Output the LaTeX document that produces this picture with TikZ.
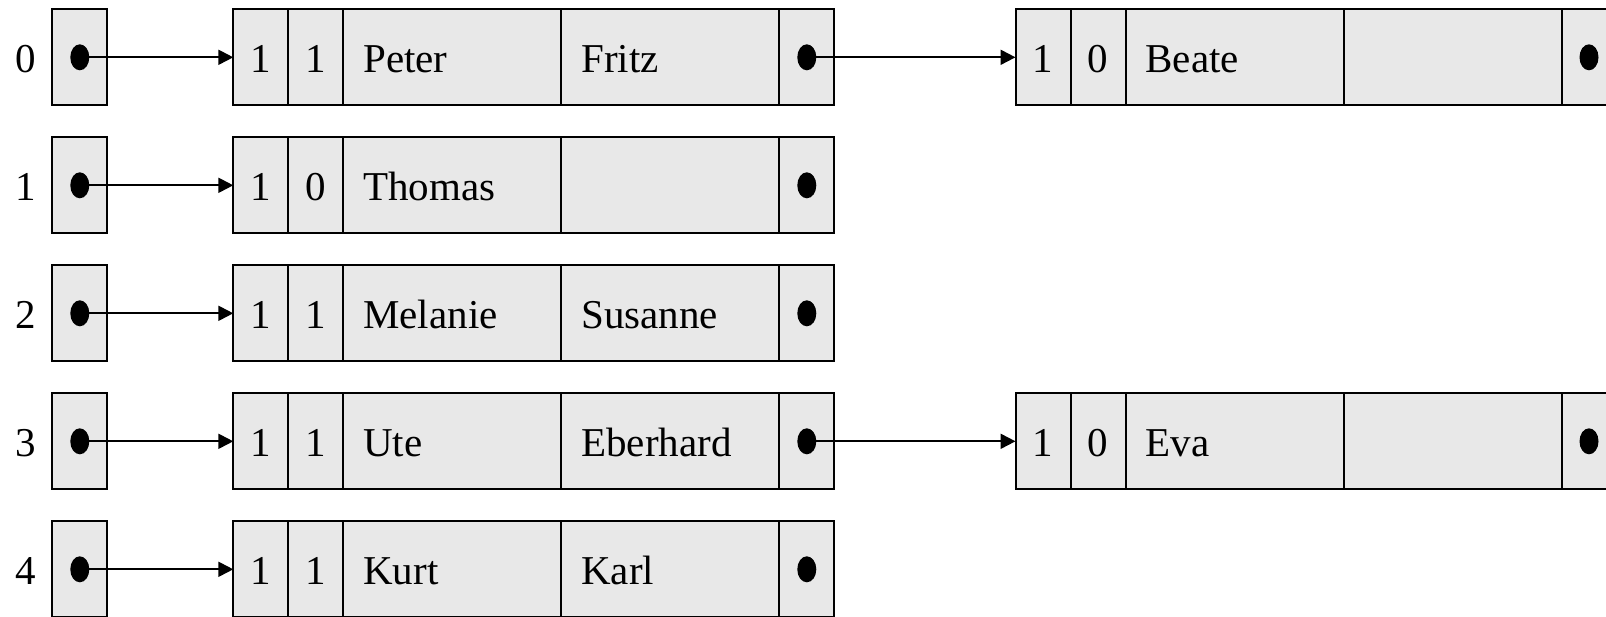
\documentclass[tikz,border=0pt]{standalone}
\usepackage{fontspec}
\setmainfont{Liberation Serif}
\usetikzlibrary{arrows.meta,shapes.geometric}
\definecolor{cellgray}{RGB}{232,232,232}

% one hash-chain record: flag, flag, name, name, next pointer
\newcommand\listrecord[7]{%
  \node[flagcell] (#1-f1) at (#2,#3) {#4};
  \node[flagcell] (#1-f2) at (#1-f1.north east) {#5};
  \node[namecell] (#1-n1) at (#1-f2.north east) {#6};
  \node[namecell] (#1-n2) at (#1-n1.north east) {#7};
  \node[ptrcell]  (#1-p)  at (#1-n2.north east) {};
  \node[dotmark]  (#1-d)  at (#1-p.center) {};
}

\begin{document}
\begin{tikzpicture}[x=0.5pt,y=-0.5pt,
  basecell/.style={draw, fill=cellgray, line width=1pt, inner ysep=0pt,
    outer sep=0pt, minimum height=48pt, anchor=north west,
    text height=16pt, text depth=0.6pt, font=\fontsize{20.5}{24}\selectfont},
  flagcell/.style={basecell, inner xsep=0pt, minimum width=27.5pt},
  ptrcell/.style={basecell, inner xsep=0pt, minimum width=27.5pt},
  namecell/.style={basecell, inner xsep=10pt, text width=89pt, align=left},
  dotmark/.style={ellipse, fill=black, inner sep=0pt, minimum width=9.5pt, minimum height=13pt},
  idx/.style={inner sep=0pt, text height=16pt, text depth=0.6pt, font=\fontsize{20.5}{24}\selectfont},
  link/.style={line width=1pt, -{Triangle[length=7.5pt,width=7.5pt]}}
]
\useasboundingbox (0,0) rectangle (1606,616);
\clip (0,0) rectangle (1606,616);

% hash table slots
\foreach \r in {0,...,4} {
  \node[idx] (i\r) at (26,{57.3+128*\r}) {\r};
  \node[ptrcell] (s\r) at (52.3,{9.3+128*\r}) {};
  \node[dotmark] (s\r-d) at (s\r.center) {};
}

% first records of each chain
\listrecord{a0}{233.3}{9.3}{1}{1}{Peter}{Fritz}
\listrecord{a1}{233.3}{137.3}{1}{0}{Thomas}{}
\listrecord{a2}{233.3}{265.3}{1}{1}{Melanie}{Susanne}
\listrecord{a3}{233.3}{393.3}{1}{1}{Ute}{Eberhard}
\listrecord{a4}{233.3}{521.3}{1}{1}{Kurt}{Karl}

% overflow records
\listrecord{b0}{1015.5}{9.3}{1}{0}{Beate}{}
\listrecord{b3}{1015.5}{393.3}{1}{0}{Eva}{}

% pointers
\foreach \r in {0,...,4} {
  \draw[link] (s\r-d.center) -- (a\r-f1.west);
}
\draw[link] (a0-d.center) -- (b0-f1.west);
\draw[link] (a3-d.center) -- (b3-f1.west);
\end{tikzpicture}
\end{document}
